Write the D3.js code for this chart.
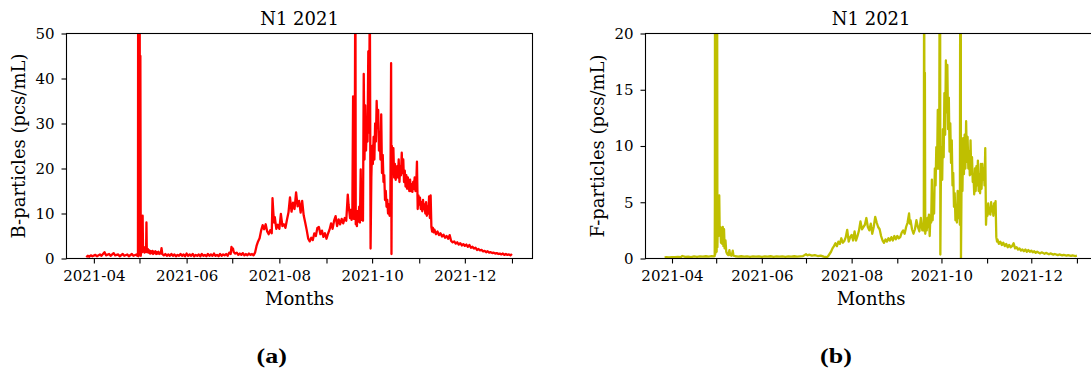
<!DOCTYPE html>
<html>
<head>
<meta charset="utf-8">
<script src="https://cdn.jsdelivr.net/npm/d3@7"></script>
<style>
  body { margin: 0; background: #fff; }
  svg text { font-family: "DejaVu Serif", serif; fill: #000; }
</style>
</head>
<body>
<svg id="fig" width="1091" height="371"></svg>
<script>
// Monthly tick positions; only every second month carries a label.
const xTicks = ["2021-04", "2021-05", "2021-06", "2021-07", "2021-08", "2021-09",
                "2021-10", "2021-11", "2021-12", "2022-01"];
const xTickLabels = ["2021-04", "2021-06", "2021-08", "2021-10", "2021-12"];
const bTicks = [0, 10, 20, 30, 40, 50];
const fTicks = [0, 5, 10, 15, 20];

// B-particle concentration, pcs/mL (timestamp, value)
const bParticles = [
  ["2021-03-27",0.3],["2021-03-28",0.6],["2021-03-29",0.4],["2021-03-30",0.7],["2021-03-31",0.5],
  ["2021-04-02",0.8],["2021-04-03",0.5],["2021-04-05",0.9],["2021-04-06",0.6],["2021-04-08",1.4],
  ["2021-04-09",0.7],["2021-04-11",1.0],["2021-04-12",0.6],["2021-04-14",1.2],["2021-04-15",0.7],
  ["2021-04-17",0.9],["2021-04-18",0.5],["2021-04-20",1.0],["2021-04-21",0.6],["2021-04-23",0.9],
  ["2021-04-24",0.5],["2021-04-26",1.0],["2021-04-27",0.6],["2021-04-29",0.9],["2021-04-29 12",0.6],
  ["2021-04-30",0.8],["2021-04-30 03",62],["2021-04-30 08",0.5],["2021-04-30 14",70],["2021-04-30 20",0.9],
  ["2021-05-01 02",75],["2021-05-01 08",1.2],["2021-05-01 14",45],["2021-05-01 20",0.6],["2021-05-02 08",2.8],
  ["2021-05-02 20",1.4],["2021-05-03 02",9.5],["2021-05-03 08",1.6],["2021-05-03 20",2.6],["2021-05-04 08",1.3],
  ["2021-05-04 20",2.2],["2021-05-05 08",1.5],["2021-05-05 14",8.0],["2021-05-05 20",1.4],["2021-05-06 12",2.1],
  ["2021-05-07",1.3],["2021-05-07 12",1.8],["2021-05-08",1.1],["2021-05-08 12",1.6],["2021-05-09",1.2],
  ["2021-05-09 12",1.7],["2021-05-10",1.0],["2021-05-10 12",1.5],["2021-05-11",1.2],["2021-05-11 12",1.6],
  ["2021-05-12",1.0],["2021-05-12 12",1.4],["2021-05-13",1.1],["2021-05-13 12",1.5],["2021-05-14",1.0],
  ["2021-05-14 12",1.3],["2021-05-15",1.1],["2021-05-15 12",2.3],["2021-05-16",1.0],["2021-05-17",0.7],
  ["2021-05-18",1.0],["2021-05-19",0.6],["2021-05-20",0.9],["2021-05-21",0.6],["2021-05-22",1.0],
  ["2021-05-23",0.6],["2021-05-24",0.9],["2021-05-25",0.5],["2021-05-26",0.8],["2021-05-27",0.6],
  ["2021-05-28",1.0],["2021-05-29",0.6],["2021-05-30",0.9],["2021-05-31",0.5],["2021-06-01",1.1],
  ["2021-06-02",0.6],["2021-06-03",0.9],["2021-06-04",0.6],["2021-06-05",1.0],["2021-06-06",0.5],
  ["2021-06-07",0.8],["2021-06-08",0.6],["2021-06-09",0.9],["2021-06-10",0.5],["2021-06-11",1.0],
  ["2021-06-12",0.6],["2021-06-13",0.8],["2021-06-14",0.5],["2021-06-15",1.0],["2021-06-16",0.6],
  ["2021-06-17",0.9],["2021-06-18",0.6],["2021-06-19",1.1],["2021-06-20",0.6],["2021-06-21",0.8],
  ["2021-06-22",0.5],["2021-06-23",1.0],["2021-06-24",0.6],["2021-06-25",0.9],["2021-06-26",0.7],
  ["2021-06-27",1.0],["2021-06-28",0.6],["2021-06-29",1.3],["2021-06-30",1.0],["2021-06-30 12",2.6],
  ["2021-07-01",1.9],["2021-07-01 12",2.2],["2021-07-02",1.4],["2021-07-03",1.1],["2021-07-04",1.3],
  ["2021-07-05",0.8],["2021-07-06",1.1],["2021-07-07",0.8],["2021-07-08",1.2],["2021-07-09",0.7],
  ["2021-07-10",1.0],["2021-07-11",0.7],["2021-07-12",1.1],["2021-07-13",0.8],["2021-07-14",1.0],
  ["2021-07-15",0.7],["2021-07-16",1.3],["2021-07-17",2.8],["2021-07-18",3.8],["2021-07-19",4.5],
  ["2021-07-20",6.2],["2021-07-21",7.4],["2021-07-22",6.5],["2021-07-23",7.6],["2021-07-24",6.0],
  ["2021-07-25",5.4],["2021-07-26",6.3],["2021-07-27",5.6],["2021-07-27 12",13.4],["2021-07-28",10.5],
  ["2021-07-28 12",8.0],["2021-07-29",9.2],["2021-07-30",6.6],["2021-07-31",7.5],["2021-08-01",6.6],
  ["2021-08-02",9.9],["2021-08-03",7.2],["2021-08-04",7.6],["2021-08-05",6.8],["2021-08-06",8.6],
  ["2021-08-07",10.2],["2021-08-08",13.6],["2021-08-09",10.4],["2021-08-10",12.4],["2021-08-11",11.0],
  ["2021-08-12",14.7],["2021-08-13",11.6],["2021-08-14",12.8],["2021-08-15",10.2],["2021-08-16",12.8],
  ["2021-08-17",9.6],["2021-08-18",8.0],["2021-08-19",6.3],["2021-08-20",4.4],["2021-08-21",3.8],
  ["2021-08-22",4.6],["2021-08-23",4.1],["2021-08-24",5.6],["2021-08-25",5.0],["2021-08-26",6.8],
  ["2021-08-27",7.0],["2021-08-28",5.4],["2021-08-29",6.2],["2021-08-30",4.8],["2021-08-31",5.6],
  ["2021-09-01",4.4],["2021-09-02",5.5],["2021-09-03",6.4],["2021-09-04",7.8],["2021-09-05",6.6],
  ["2021-09-06",8.4],["2021-09-07",9.4],["2021-09-08",7.2],["2021-09-09",8.7],["2021-09-10",7.6],
  ["2021-09-11",8.8],["2021-09-12",7.8],["2021-09-13",9.0],["2021-09-14",8.4],["2021-09-15",14.2],
  ["2021-09-15 12",12.0],["2021-09-16",10.5],["2021-09-16 12",9.0],["2021-09-17",10.8],["2021-09-17 12",8.6],
  ["2021-09-18",9.6],["2021-09-18 12",36.0],["2021-09-19",8.8],["2021-09-19 12",11.0],["2021-09-20",70],
  ["2021-09-20 06",7.6],["2021-09-20 12",9.8],["2021-09-21",7.2],["2021-09-21 12",10.5],["2021-09-22",8.2],
  ["2021-09-22 12",11.5],["2021-09-23",8.0],["2021-09-23 12",19.8],["2021-09-24",8.6],["2021-09-24 12",9.2],
  ["2021-09-25",8.4],["2021-09-25 12",41.0],["2021-09-26",22.0],["2021-09-26 12",34.0],["2021-09-27",24.0],
  ["2021-09-27 12",30.0],["2021-09-28",26.0],["2021-09-28 12",46.0],["2021-09-29",28.0],["2021-09-29 12",60],
  ["2021-09-30",2.2],["2021-09-30 12",18.0],["2021-10-01",25.0],["2021-10-01 12",21.0],["2021-10-02",27.0],
  ["2021-10-02 12",22.0],["2021-10-03",30.0],["2021-10-03 12",26.0],["2021-10-04",35.0],["2021-10-04 12",29.0],
  ["2021-10-05",33.0],["2021-10-05 12",24.0],["2021-10-06",28.0],["2021-10-06 12",22.0],["2021-10-07",32.0],
  ["2021-10-07 12",19.0],["2021-10-08",23.0],["2021-10-08 12",17.0],["2021-10-09",18.5],["2021-10-09 12",13.0],
  ["2021-10-10",15.0],["2021-10-10 12",11.5],["2021-10-11",13.0],["2021-10-11 12",10.0],["2021-10-12",12.0],
  ["2021-10-12 12",9.5],["2021-10-13",11.5],["2021-10-13 12",43.4],["2021-10-13 18",1.0],["2021-10-14",25.0],
  ["2021-10-14 12",20.0],["2021-10-15",24.5],["2021-10-15 12",18.0],["2021-10-16",21.0],["2021-10-16 12",17.5],
  ["2021-10-17",19.0],["2021-10-17 12",20.5],["2021-10-18",18.0],["2021-10-18 12",22.0],["2021-10-19",17.0],
  ["2021-10-19 12",20.5],["2021-10-20",18.5],["2021-10-20 12",23.5],["2021-10-21",19.0],["2021-10-21 12",22.0],
  ["2021-10-22",17.0],["2021-10-22 12",19.5],["2021-10-23",16.0],["2021-10-23 12",18.5],["2021-10-24",15.5],
  ["2021-10-24 12",18.0],["2021-10-25",16.5],["2021-10-25 12",15.0],["2021-10-26",17.5],["2021-10-26 12",15.0],
  ["2021-10-27",16.5],["2021-10-27 12",14.8],["2021-10-28",17.0],["2021-10-28 12",15.5],["2021-10-29",18.0],
  ["2021-10-29 12",15.0],["2021-10-30",16.0],["2021-10-30 12",21.5],["2021-10-31",11.0],["2021-10-31 12",14.0],
  ["2021-11-01",12.0],["2021-11-01 12",13.5],["2021-11-02",11.0],["2021-11-02 12",12.5],["2021-11-03",10.5],
  ["2021-11-03 12",13.0],["2021-11-04",11.0],["2021-11-04 12",12.0],["2021-11-05",10.0],["2021-11-05 12",12.5],
  ["2021-11-06",9.5],["2021-11-06 12",11.5],["2021-11-07",10.0],["2021-11-07 12",13.8],["2021-11-08",9.0],
  ["2021-11-08 12",14.0],["2021-11-09",7.0],["2021-11-09 12",6.0],["2021-11-10",6.8],["2021-11-10 12",5.8],
  ["2021-11-11",6.4],["2021-11-12",5.4],["2021-11-13",6.0],["2021-11-14",5.2],["2021-11-15",5.6],
  ["2021-11-16",4.9],["2021-11-17",5.3],["2021-11-18",4.6],["2021-11-19",5.0],["2021-11-20",4.4],
  ["2021-11-21",5.2],["2021-11-22",3.9],["2021-11-23",3.6],["2021-11-24",3.8],["2021-11-25",3.3],
  ["2021-11-26",3.6],["2021-11-27",3.1],["2021-11-28",3.4],["2021-11-29",2.9],["2021-11-30",3.2],
  ["2021-12-01",2.8],["2021-12-02",3.1],["2021-12-03",2.6],["2021-12-04",3.0],["2021-12-05",2.4],
  ["2021-12-06",2.6],["2021-12-07",2.2],["2021-12-08",2.4],["2021-12-09",1.9],["2021-12-10",2.1],
  ["2021-12-11",1.8],["2021-12-12",1.9],["2021-12-13",1.6],["2021-12-14",1.7],["2021-12-15",1.4],
  ["2021-12-16",1.6],["2021-12-17",1.3],["2021-12-18",1.4],["2021-12-19",1.2],["2021-12-20",1.3],
  ["2021-12-21",1.1],["2021-12-22",1.2],["2021-12-23",1.0],["2021-12-24",1.1],["2021-12-25",0.9],
  ["2021-12-26",1.1],["2021-12-27",0.8],["2021-12-28",1.0],["2021-12-29",0.8],["2021-12-30",0.9],
  ["2021-12-31",0.7],["2022-01-01",1.0]
];

// F-particle concentration, pcs/mL (timestamp, value)
const fParticles = [
  ["2021-03-27",0.08],["2021-03-28",0.12],["2021-03-30",0.10],["2021-04-01",0.13],["2021-04-03",0.11],
  ["2021-04-05",0.14],["2021-04-07",0.12],["2021-04-08",0.22],["2021-04-10",0.14],["2021-04-12",0.17],
  ["2021-04-14",0.13],["2021-04-16",0.18],["2021-04-18",0.15],["2021-04-20",0.19],["2021-04-22",0.16],
  ["2021-04-24",0.20],["2021-04-26",0.17],["2021-04-28",0.21],["2021-04-29 12",0.19],["2021-04-30",0.22],
  ["2021-04-30 03",5.2],["2021-04-30 06",40],["2021-04-30 10",0.4],["2021-04-30 14",45],["2021-04-30 20",1.2],
  ["2021-05-01 02",50],["2021-05-01 08",0.6],["2021-05-01 14",35],["2021-05-01 20",1.0],["2021-05-02 08",5.5],
  ["2021-05-02 14",2.0],["2021-05-03 02",5.6],["2021-05-03 10",2.2],["2021-05-03 20",2.8],["2021-05-04 06",1.4],
  ["2021-05-04 16",2.7],["2021-05-05 02",1.3],["2021-05-05 12",2.8],["2021-05-05 22",1.1],["2021-05-06 08",2.6],
  ["2021-05-06 18",0.9],["2021-05-07 08",1.6],["2021-05-07 20",0.6],["2021-05-08 12",0.4],["2021-05-09 06",0.3],
  ["2021-05-10",0.75],["2021-05-10 12",0.3],["2021-05-11 12",0.25],["2021-05-12 06",0.7],["2021-05-12 18",0.25],
  ["2021-05-14",0.20],["2021-05-16",0.17],["2021-05-18",0.20],["2021-05-20",0.16],["2021-05-22",0.19],
  ["2021-05-24",0.15],["2021-05-26",0.18],["2021-05-28",0.16],["2021-05-30",0.19],["2021-06-01",0.15],
  ["2021-06-03",0.18],["2021-06-05",0.16],["2021-06-07",0.20],["2021-06-09",0.15],["2021-06-11",0.18],
  ["2021-06-13",0.16],["2021-06-15",0.19],["2021-06-17",0.15],["2021-06-19",0.18],["2021-06-21",0.17],
  ["2021-06-23",0.20],["2021-06-25",0.16],["2021-06-27",0.19],["2021-06-29",0.22],["2021-06-30",0.30],
  ["2021-07-01",0.38],["2021-07-02",0.28],["2021-07-03",0.34],["2021-07-05",0.25],["2021-07-07",0.30],
  ["2021-07-09",0.22],["2021-07-11",0.26],["2021-07-13",0.17],["2021-07-15",0.12],["2021-07-16",0.20],
  ["2021-07-17",0.40],["2021-07-18",0.60],["2021-07-19",0.90],["2021-07-20",1.10],["2021-07-21",1.35],
  ["2021-07-22",1.10],["2021-07-23",1.50],["2021-07-24",1.30],["2021-07-25",1.80],["2021-07-26",1.40],
  ["2021-07-27",1.55],["2021-07-28",1.90],["2021-07-29",2.55],["2021-07-30",1.50],["2021-07-31",1.90],
  ["2021-08-01",2.10],["2021-08-02",1.60],["2021-08-03",2.40],["2021-08-04",1.60],["2021-08-05",2.00],
  ["2021-08-06",2.50],["2021-08-07",3.30],["2021-08-08",2.60],["2021-08-09",2.80],["2021-08-10",3.00],
  ["2021-08-11",3.60],["2021-08-12",2.80],["2021-08-13",2.50],["2021-08-14",3.10],["2021-08-15",2.20],
  ["2021-08-16",2.80],["2021-08-17",3.70],["2021-08-18",3.20],["2021-08-19",2.80],["2021-08-20",2.60],
  ["2021-08-21",2.00],["2021-08-22",1.60],["2021-08-23",1.40],["2021-08-24",1.70],["2021-08-25",1.50],
  ["2021-08-26",1.80],["2021-08-27",1.60],["2021-08-28",1.90],["2021-08-29",1.60],["2021-08-30",2.00],
  ["2021-08-31",1.70],["2021-09-01",2.00],["2021-09-02",1.80],["2021-09-03",1.90],["2021-09-04",2.30],
  ["2021-09-05",2.50],["2021-09-06",2.20],["2021-09-07",2.80],["2021-09-08",3.20],["2021-09-09",4.00],
  ["2021-09-09 12",3.10],["2021-09-10",3.40],["2021-09-11",2.60],["2021-09-12",2.20],["2021-09-13",2.60],
  ["2021-09-14",3.40],["2021-09-15",2.80],["2021-09-16",2.40],["2021-09-17",3.60],["2021-09-18",2.50],
  ["2021-09-19",3.00],["2021-09-19 06",30],["2021-09-19 12",2.40],["2021-09-19 18",16.5],["2021-09-20",2.20],
  ["2021-09-20 12",3.00],["2021-09-21",2.50],["2021-09-21 12",3.60],["2021-09-22",2.80],["2021-09-22 12",3.90],
  ["2021-09-23",2.00],["2021-09-23 12",3.80],["2021-09-24",3.20],["2021-09-24 12",7.00],["2021-09-25",3.40],
  ["2021-09-25 12",5.50],["2021-09-26",4.00],["2021-09-26 12",8.00],["2021-09-27",6.50],["2021-09-27 12",9.90],
  ["2021-09-28",8.00],["2021-09-28 12",13.2],["2021-09-29",8.00],["2021-09-29 12",10.5],["2021-09-30",40],
  ["2021-09-30 06",0.35],["2021-09-30 18",9.90],["2021-10-01",9.90],["2021-10-01 12",7.00],["2021-10-02",11.5],
  ["2021-10-02 12",9.00],["2021-10-03",14.7],["2021-10-03 12",11.0],["2021-10-04",17.6],["2021-10-04 12",13.0],
  ["2021-10-05",17.2],["2021-10-05 12",11.5],["2021-10-06",14.3],["2021-10-06 12",9.50],["2021-10-07",12.0],
  ["2021-10-07 12",8.50],["2021-10-08",10.5],["2021-10-08 12",6.50],["2021-10-09",7.60],["2021-10-09 12",4.60],
  ["2021-10-10",5.80],["2021-10-10 12",3.40],["2021-10-11",4.50],["2021-10-11 12",3.20],["2021-10-12",6.00],
  ["2021-10-12 12",3.60],["2021-10-13",5.50],["2021-10-13 12",3.00],["2021-10-14",50],["2021-10-14 06",0.05],
  ["2021-10-14 18",8.50],["2021-10-15 06",6.00],["2021-10-15 18",10.7],["2021-10-16 06",7.50],["2021-10-16 18",11.0],
  ["2021-10-17 06",8.00],["2021-10-17 18",12.2],["2021-10-18 06",8.60],["2021-10-18 18",10.8],["2021-10-19 06",8.00],
  ["2021-10-19 18",9.50],["2021-10-20 06",7.40],["2021-10-20 18",10.5],["2021-10-21 06",7.50],["2021-10-21 18",9.00],
  ["2021-10-22 06",6.80],["2021-10-22 18",7.50],["2021-10-23 06",5.70],["2021-10-23 18",8.00],["2021-10-24 06",6.00],
  ["2021-10-24 18",8.20],["2021-10-25 06",6.50],["2021-10-25 18",8.70],["2021-10-26 06",6.00],["2021-10-26 18",7.50],
  ["2021-10-27 06",5.80],["2021-10-27 18",8.40],["2021-10-28 06",6.20],["2021-10-28 18",8.40],["2021-10-29 06",7.00],
  ["2021-10-29 18",8.00],["2021-10-30 06",6.50],["2021-10-30 18",9.80],["2021-10-31 06",3.00],["2021-10-31 18",4.60],
  ["2021-11-01 06",3.80],["2021-11-01 18",4.90],["2021-11-02 06",4.00],["2021-11-02 18",4.50],["2021-11-03 06",3.90],
  ["2021-11-03 18",5.00],["2021-11-04 06",4.20],["2021-11-04 18",4.60],["2021-11-05 06",3.80],["2021-11-05 18",4.90],
  ["2021-11-06 06",4.10],["2021-11-06 18",5.10],["2021-11-07 06",1.90],["2021-11-07 18",1.50],["2021-11-08",1.70],
  ["2021-11-09",1.30],["2021-11-10",1.50],["2021-11-11",1.20],["2021-11-12",1.40],["2021-11-13",1.10],
  ["2021-11-14",1.30],["2021-11-15",1.00],["2021-11-16",1.20],["2021-11-17",1.00],["2021-11-18",1.10],
  ["2021-11-19",1.35],["2021-11-20",0.90],["2021-11-21",1.00],["2021-11-22",0.80],["2021-11-23",0.90],
  ["2021-11-24",0.70],["2021-11-25",0.80],["2021-11-26",0.65],["2021-11-27",0.80],["2021-11-28",0.60],
  ["2021-11-29",0.75],["2021-11-30",0.60],["2021-12-01",0.70],["2021-12-02",0.55],["2021-12-03",0.65],
  ["2021-12-04",0.50],["2021-12-05",0.60],["2021-12-07",0.45],["2021-12-08",0.55],["2021-12-10",0.42],
  ["2021-12-11",0.50],["2021-12-13",0.38],["2021-12-14",0.45],["2021-12-16",0.35],["2021-12-17",0.40],
  ["2021-12-19",0.30],["2021-12-20",0.36],["2021-12-22",0.28],["2021-12-23",0.33],["2021-12-25",0.26],
  ["2021-12-26",0.30],["2021-12-28",0.24],["2021-12-29",0.28],["2021-12-31",0.22],["2022-01-01",0.25]
];

const parseHour = d3.timeParse("%Y-%m-%d %H");
const parseDay = d3.timeParse("%Y-%m-%d");
const parseMonth = d3.timeParse("%Y-%m");
const parseTime = s => parseHour(s) || parseDay(s);
const fmtMonth = d3.timeFormat("%Y-%m");

const svg = d3.select("#fig");
const axTop = 33.5, axBottom = 258.5;
const timeDomain = [parseTime("2021-03-14"), parseTime("2022-01-14 12")];

const panels = [
  { id: "a", data: bParticles, ticks: bTicks, yMax: 50, color: "#ff0000",
    ylabel: "B-particles (pcs/mL)", left: 66.5, right: 532.5, ylabelX: 25, caption: 271.7 },
  { id: "b", data: fParticles, ticks: fTicks, yMax: 20, color: "#bfbf00",
    ylabel: "F-particles (pcs/mL)", left: 645.5, right: 1096.8, ylabelX: 604, caption: 836 }
];

panels.forEach(p => {
  const g = svg.append("g");
  const x = d3.scaleTime().domain(timeDomain).range([p.left, p.right]);
  const y = d3.scaleLinear().domain([0, p.yMax]).range([axBottom, axTop]);
  const cx = (p.left + p.right) / 2;

  g.append("clipPath").attr("id", "clip-" + p.id)
    .append("rect")
    .attr("x", p.left).attr("y", axTop)
    .attr("width", p.right - p.left).attr("height", axBottom - axTop);

  const line = d3.line()
    .x(d => x(parseTime(d[0])))
    .y(d => y(d[1]));

  g.append("path")
    .datum(p.data)
    .attr("clip-path", "url(#clip-" + p.id + ")")
    .attr("fill", "none")
    .attr("stroke", p.color)
    .attr("stroke-width", 2.3)
    .attr("stroke-linejoin", "round")
    .attr("d", line);

  // x axis
  const xAxis = d3.axisBottom(x)
    .tickValues(xTicks.map(parseMonth))
    .tickSize(5)
    .tickPadding(7)
    .tickFormat(d => xTickLabels.includes(fmtMonth(d)) ? fmtMonth(d) : "");
  const gx = g.append("g").attr("transform", `translate(0,${axBottom})`).call(xAxis);
  gx.select(".domain").remove();
  gx.selectAll("text").style("font-size", "15px").style("font-family", "DejaVu Serif");
  gx.selectAll("line").attr("stroke", "#000").attr("stroke-width", 1.1);

  // y axis
  const yAxis = d3.axisLeft(y).tickValues(p.ticks).tickSize(5).tickPadding(7);
  const gy = g.append("g").attr("transform", `translate(${p.left},0)`).call(yAxis);
  gy.select(".domain").remove();
  gy.selectAll("text").style("font-size", "15px").style("font-family", "DejaVu Serif");
  gy.selectAll("line").attr("stroke", "#000").attr("stroke-width", 1.1);

  // axes frame
  g.append("rect")
    .attr("x", p.left).attr("y", axTop)
    .attr("width", p.right - p.left).attr("height", axBottom - axTop)
    .attr("fill", "none").attr("stroke", "#000").attr("stroke-width", 1.1);

  g.append("text").attr("x", cx).attr("y", 25)
    .attr("text-anchor", "middle").style("font-size", "18px").text("N1 2021");

  g.append("text").attr("x", cx).attr("y", 305)
    .attr("text-anchor", "middle").style("font-size", "18px").text("Months");

  g.append("text")
    .attr("transform", `translate(${p.ylabelX},${(axTop + axBottom) / 2}) rotate(-90)`)
    .attr("text-anchor", "middle").style("font-size", "18px").text(p.ylabel);

  g.append("text")
    .attr("transform", `translate(${p.caption},363) scale(1.3,1)`)
    .attr("text-anchor", "middle")
    .style("font-family", "'Liberation Serif', 'Times New Roman', serif")
    .style("font-weight", "bold")
    .style("font-size", "20px")
    .text(`(${p.id})`);
});
</script>
</body>
</html>
